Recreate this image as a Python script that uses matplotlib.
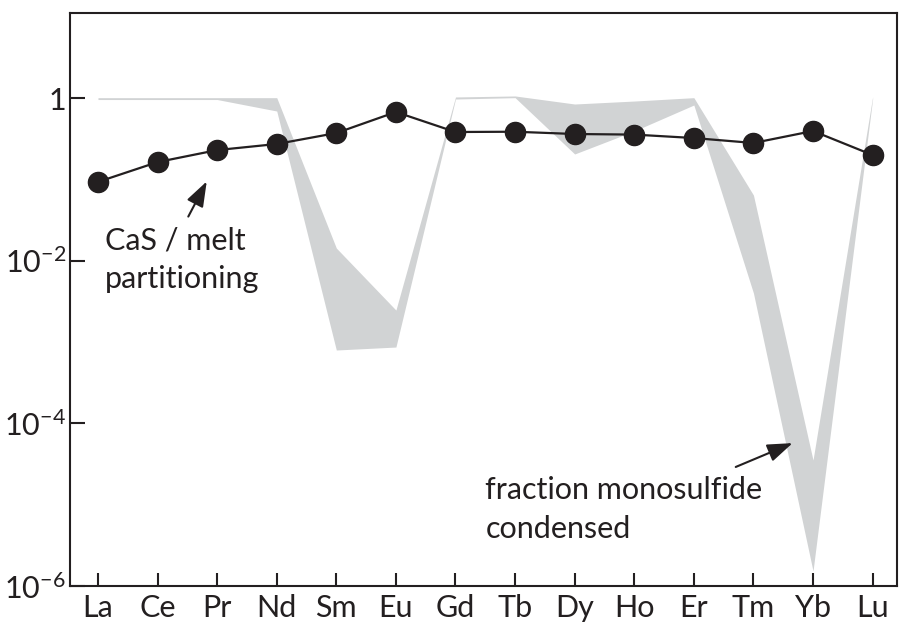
import matplotlib
matplotlib.use("Agg")
import matplotlib.pyplot as plt

# ------------------------------
# Data
# ------------------------------
elements = ["La", "Ce", "Pr", "Nd", "Sm", "Eu", "Gd", "Tb", "Dy", "Ho", "Er", "Tm", "Yb", "Lu"]

# CaS / melt partition coefficients
cas_melt = [0.093, 0.163, 0.229, 0.272, 0.371, 0.673, 0.382, 0.385, 0.361, 0.355, 0.322, 0.28, 0.393, 0.199]

# fraction monosulfide condensed (grey band, upper and lower edge)
band_upper = [1.01, 1.01, 1.01, 1.01, 0.0143, 0.00247, 1.03, 1.06, 0.844, 0.918, 1.01, 0.0641, 3.54e-5, 1.03]
band_lower = [0.958, 0.958, 0.958, 0.692, 7.97e-4, 8.67e-4, 0.972, 1.01, 0.205, 0.393, 0.82, 4.0e-3, 1.53e-6, 0.972]

ytick_vals = [1, 1e-2, 1e-4, 1e-6]
ytick_labels = ["1", r"$\mathregular{10^{-2}}$", r"$\mathregular{10^{-4}}$", r"$\mathregular{10^{-6}}$"]

# ------------------------------
# Style
# ------------------------------
FONT = "Lato"
INK = "#231f20"
GREY = "#d1d3d4"
plt.rcParams["font.family"] = FONT
plt.rcParams["mathtext.fontset"] = "custom"
plt.rcParams["mathtext.rm"] = FONT
plt.rcParams["font.size"] = 22

fig = plt.figure(figsize=(9.04, 6.28), dpi=100)
ax = fig.add_axes([0.0774, 0.0669, 0.9149, 0.9124])

x = list(range(len(elements)))

ax.fill_between(x, band_lower, band_upper, color=GREY, lw=0, zorder=1)
ax.plot(x, cas_melt, color=INK, lw=1.6, marker="o", ms=14.5, zorder=3)

ax.set_yscale("log")
ax.set_ylim(1e-6, 11.1)
ax.set_xlim(-0.47, 13.41)
ax.set_yticks(ytick_vals)
ax.set_yticklabels(ytick_labels)
ax.minorticks_off()
ax.set_xticks(x)
ax.set_xticklabels(elements)

ax.tick_params(axis="both", direction="in", color=INK, labelcolor=INK, width=1.5)
ax.tick_params(axis="x", length=9.5, pad=6)
ax.tick_params(axis="y", length=11, pad=3)
for side in ax.spines.values():
    side.set_linewidth(1.5)
    side.set_color(INK)

# ------------------------------
# Annotations
# ------------------------------
ax.text(0.12, 0.0139, "CaS / melt", color=INK, va="baseline")
ax.text(0.12, 0.00461, "partitioning", color=INK, va="baseline")
ax.annotate("", xy=(1.847, 0.101), xytext=(1.494, 0.0325),
            arrowprops=dict(arrowstyle="-|>,head_length=0.7,head_width=0.25", color=INK, lw=1.5))

ax.text(6.50, 1.17e-5, "fraction monosulfide", color=INK, va="baseline")
ax.text(6.50, 3.89e-6, "condensed", color=INK, va="baseline")
ax.annotate("", xy=(11.70, 5.89e-5), xytext=(10.66, 2.82e-5),
            arrowprops=dict(arrowstyle="-|>,head_length=0.7,head_width=0.25", color=INK, lw=1.5))

fig.savefig("out.png", dpi=100)
